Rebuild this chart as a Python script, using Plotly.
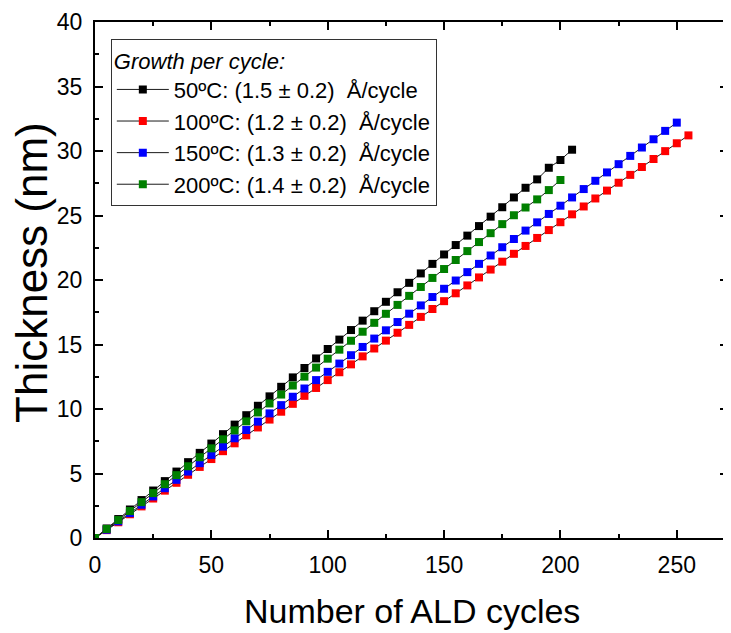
import plotly.graph_objects as go

# ---- data ----
cycles_50 = list(range(0, 206, 5))
thick_50 = [0, 0.74, 1.47, 2.21, 2.94, 3.68, 4.41, 5.15, 5.88, 6.60, 7.32, 8.05, 8.79, 9.52,
            10.25, 10.98, 11.72, 12.45, 13.18, 13.92, 14.65, 15.38, 16.12, 16.85, 17.58, 18.31,
            19.05, 19.78, 20.51, 21.25, 21.98, 22.71, 23.44, 24.18, 24.91, 25.64, 26.40, 27.15,
            27.80, 28.70, 29.30, 30.10]

cycles_100 = list(range(0, 256, 5))
thick_100 = [0, 0.61, 1.22, 1.84, 2.45, 3.06, 3.67, 4.28, 4.90, 5.51, 6.12, 6.73, 7.34, 7.96,
             8.57, 9.18, 9.79, 10.40, 11.02, 11.63, 12.24, 12.85, 13.46, 14.08, 14.69, 15.30,
             15.91, 16.52, 17.14, 17.75, 18.36, 18.97, 19.58, 20.20, 20.81, 21.42, 22.03, 22.64,
             23.26, 23.87, 24.48, 25.09, 25.70, 26.32, 26.93, 27.54, 28.15, 28.76, 29.38, 29.99,
             30.60, 31.21]

cycles_150 = list(range(0, 251, 5))
thick_150 = [0, 0.64, 1.29, 1.93, 2.58, 3.22, 3.86, 4.51, 5.15, 5.80, 6.44, 7.08, 7.73, 8.37,
             9.02, 9.66, 10.30, 10.95, 11.59, 12.24, 12.88, 13.52, 14.17, 14.81, 15.46, 16.10,
             16.74, 17.39, 18.03, 18.68, 19.32, 19.96, 20.61, 21.25, 21.90, 22.54, 23.18, 23.83,
             24.47, 25.12, 25.76, 26.40, 27.05, 27.69, 28.34, 28.98, 29.62, 30.27, 30.91, 31.56,
             32.20]

cycles_200 = list(range(0, 201, 5))
thick_200 = [0, 0.70, 1.39, 2.09, 2.78, 3.48, 4.17, 4.87, 5.56, 6.26, 6.95, 7.65, 8.34, 9.04,
             9.73, 10.43, 11.12, 11.82, 12.51, 13.21, 13.90, 14.60, 15.29, 15.99, 16.68, 17.38,
             18.07, 18.77, 19.46, 20.16, 20.85, 21.55, 22.24, 22.94, 23.63, 24.33, 25.02, 25.62,
             26.25, 26.97, 27.75]

series_names = ["50ºC: (1.5 ± 0.2)  Å/cycle",
                "100ºC: (1.2 ± 0.2)  Å/cycle",
                "150ºC: (1.3 ± 0.2)  Å/cycle",
                "200ºC: (1.4 ± 0.2)  Å/cycle"]
series_colors = ["#000000", "#FF0000", "#0000FF", "#008000"]
series_x = [cycles_50, cycles_100, cycles_150, cycles_200]
series_y = [thick_50, thick_100, thick_150, thick_200]

x_ticks = [0, 50, 100, 150, 200, 250]
y_ticks = [0, 5, 10, 15, 20, 25, 30, 35, 40]

FONT = "Liberation Sans, Arial, sans-serif"

fig = go.Figure()
for name, col, xs, ys in zip(series_names, series_colors, series_x, series_y):
    fig.add_trace(go.Scatter(
        x=xs, y=ys, name=name, mode="lines+markers",
        line=dict(color="#1a1a1a", width=1),
        marker=dict(symbol="square", size=8, color=col, line=dict(width=0)),
    ))

axis_common = dict(
    showline=True, linecolor="black", linewidth=2, mirror="ticks",
    ticks="inside", ticklen=8, tickwidth=2, tickcolor="black",
    showgrid=False, zeroline=False, ticklabeloverflow="allow",
    tickfont=dict(family=FONT, size=23, color="black"),
)

fig.update_xaxes(range=[0, 272], tickvals=x_ticks,
                 minor=dict(dtick=25, tick0=0, ticks="inside", ticklen=4, tickwidth=2,
                            tickcolor="black", showgrid=False),
                 ticklabelstandoff=5, **axis_common)
fig.update_yaxes(range=[0, 40], tickvals=y_ticks,
                 minor=dict(dtick=2.5, tick0=0, ticks="inside", ticklen=4, tickwidth=2,
                            tickcolor="black", showgrid=False),
                 ticklabelstandoff=6, **axis_common)

fig.add_annotation(text="Number of ALD cycles", xref="paper", yref="paper",
                   x=0.5, y=-0.142, xanchor="center", yanchor="middle", showarrow=False,
                   font=dict(family=FONT, size=34, color="black"))
fig.add_annotation(text="Thickness (nm)", xref="paper", yref="paper",
                   x=-0.1, y=0.515, xanchor="center", yanchor="middle", showarrow=False,
                   textangle=-90, font=dict(family=FONT, size=44, color="black"))

# the page body adds an 8px offset, so the figure is sized to fit the 731x633 window
fig.update_layout(
    width=723, height=625,
    margin=dict(l=87, r=1, t=10, b=95),
    plot_bgcolor="white", paper_bgcolor="white",
    showlegend=True,
    legend=dict(
        x=0.025, y=0.967, xanchor="left", yanchor="top",
        bgcolor="white", bordercolor="#333333", borderwidth=1,
        font=dict(family=FONT, size=22, color="black"),
        title=dict(text="<i>Growth per cycle:</i>", font=dict(family=FONT, size=22, color="black")),
        itemwidth=52,
        tracegroupgap=0,
    ),
)

fig.write_html("out.html")
